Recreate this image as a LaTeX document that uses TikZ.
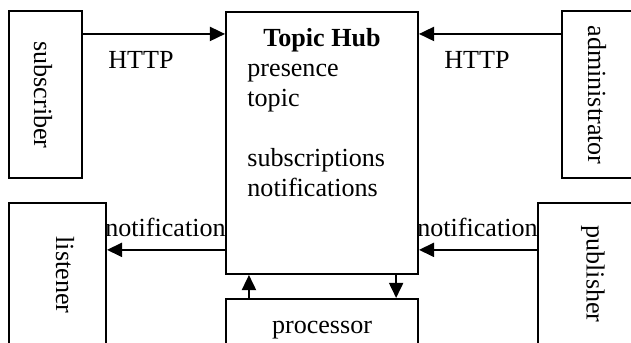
\documentclass[tikz,border=0pt]{standalone}
\usepackage{fontspec}
\setmainfont{Liberation Serif}
\usetikzlibrary{arrows.meta,positioning,calc}

\begin{document}
\begin{tikzpicture}[
  x=0.46pt, y=-0.46pt,
  font=\fontsize{12}{13.8}\selectfont,
  box/.style={draw, line width=0.9pt, inner sep=0pt},
  vlabel/.style={rotate=-90, inner sep=0pt},
  arr/.style={-{Triangle[length=7pt,width=6.5pt]}, line width=0.9pt}
]
\useasboundingbox (0,0) rectangle (631,343);
\clip (0,0) rectangle (631,343);

% boxes
\node[box, minimum width=33.6pt, minimum height=76.8pt]  (sub)  at (45.5,94.5)  {};
\node[box, minimum width=35.9pt, minimum height=76.8pt]  (adm)  at (601,94.5)   {};
\node[box, minimum width=44.6pt, minimum height=72.2pt]  (lis)  at (57.5,281.5) {};
\node[box, minimum width=46.9pt, minimum height=72.2pt]  (pub)  at (589,281.5)  {};
\node[box, minimum width=88.3pt, minimum height=120.5pt] (hub)  at (322,143)    {};
\node[box, minimum width=88.3pt, minimum height=28.1pt]  (proc) at (322,329.5)  {};

% texts inside
\node[vlabel] (subtxt) at (43,95)  {subscriber};
\node[vlabel] (admtxt) at (597,95) {administrator};
\node[vlabel] (listxt) at (65,275) {listener};
\node[vlabel] (pubtxt) at (593,274) {publisher};
\node[anchor=base, inner sep=0pt] (hubtitle) at (322,47) {\textbf{Topic Hub}};
\node[anchor=north west, inner sep=0pt, align=left] (hubbody) at (247,55)
  {\strut presence\\topic\\[13.8pt]subscriptions\\notifications};
\node[anchor=base, inner sep=0pt] (proctxt) at (322,334) {processor};

% connectors
\draw[arr] ([yshift=-11pt]sub.north east) -- ([yshift=-11pt]sub.north east -| hub.west);
\draw[arr] ([yshift=-11pt]adm.north west) -- ([yshift=-11pt]adm.north west -| hub.east);
\draw[arr] ([yshift=-22pt]lis.north east -| hub.west) -- ([yshift=-22pt]lis.north east);
\draw[arr] ([yshift=-22pt]pub.north west) -- ([yshift=-22pt]pub.north west -| hub.east);
\draw[arr] ([xshift=11pt]proc.north west) -- ([xshift=11pt]proc.north west |- hub.south);
\draw[arr] ([xshift=-10.5pt]hub.south east) -- ([xshift=-10.5pt]hub.south east |- proc.north);

% connector labels
\node[anchor=base, inner sep=0pt] (http1) at (141,69) {HTTP};
\node[anchor=base, inner sep=0pt] (http2) at (477,69) {HTTP};
\node[anchor=base east, inner sep=0pt] (note1) at (226,237) {notification};
\node[anchor=base east, inner sep=0pt] (note2) at (538,237) {notification};
\end{tikzpicture}
\end{document}
